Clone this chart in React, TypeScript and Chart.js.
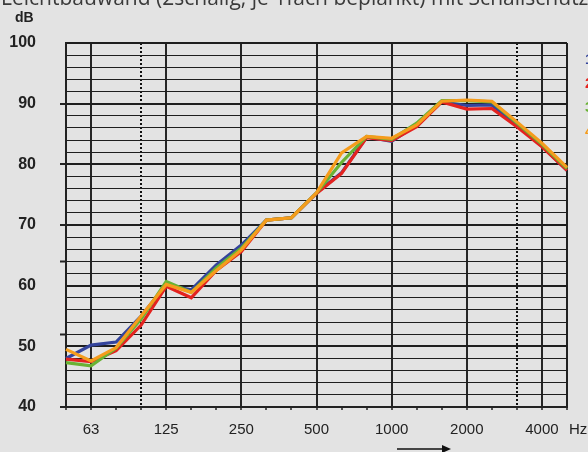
import React, { useEffect, useRef } from 'react';
import { Chart, registerables } from 'chart.js';

Chart.register(...registerables);

// Third-octave band centre frequencies (Hz)
const frequencies = ['50', '63', '80', '100', '125', '160', '200', '250', '315', '400', '500', '630', '800', '1000', '1250', '1600', '2000', '2500', '3150', '4000', '5000'];
const shownFrequencyLabels = ['63', '125', '250', '500', '1000', '2000', '4000'];
const dottedFrequencies = ['100', '3150'];

// Sound reduction index curves (dB)
const series1 = [48.0, 50.2, 50.7, 55.0, 60.1, 59.3, 63.4, 66.7, 70.8, 71.2, 75.3, 78.6, 84.5, 83.8, 86.5, 90.3, 89.7, 89.8, 86.5, 83.0, 79.0];
const series2 = [47.9, 47.5, 49.3, 53.5, 59.9, 58.0, 62.5, 65.6, 70.8, 71.2, 75.2, 78.5, 84.4, 83.9, 86.2, 90.3, 89.1, 89.2, 86.2, 82.9, 79.0];
const series3 = [47.3, 46.8, 49.7, 54.5, 60.7, 58.9, 62.9, 66.2, 70.8, 71.2, 75.3, 80.3, 84.6, 84.1, 86.8, 90.5, 90.5, 90.3, 86.8, 83.3, 79.3];
const series4 = [49.5, 47.6, 49.8, 55.0, 60.2, 58.9, 62.5, 65.9, 70.8, 71.2, 75.3, 81.9, 84.6, 84.3, 86.5, 90.4, 90.6, 90.4, 87.0, 83.5, 79.5];

const seriesNames = ['1', '2', '3', '4'];
const seriesColors = ['#34449c', '#e4231f', '#69b234', '#f59c1c'];

const yMin = 40;
const yMax = 100;
const yLabelValues = [40, 50, 60, 70, 80, 90, 100];
const yTickMarkValues = [40, 52, 64, 70, 80, 90];

const titleText = 'Leichtbauwand (2schalig, je 1fach beplankt) mit Schallschutz';
const yUnit = 'dB';
const xUnit = 'Hz';

const extrasPlugin = {
  id: 'extras',
  afterDraw(chart: any) {
    const ctx = chart.ctx;
    ctx.save();
    // title (clipped at top, as in reference)
    ctx.fillStyle = '#3a3a3a';
    ctx.font = '21px "Open Sans"';
    ctx.textAlign = 'left';
    ctx.textBaseline = 'alphabetic';
    ctx.fillText(titleText, 1, 5);
    // y unit
    ctx.fillStyle = '#222';
    ctx.font = 'bold 14px "Liberation Sans"';
    ctx.textBaseline = 'middle';
    ctx.fillText(yUnit, 15, 18);
    // x unit
    ctx.font = '15px "Liberation Sans"';
    ctx.fillText(xUnit, 569, 430);
    // legend numbers (partly cut at right edge)
    ctx.font = 'bold 15px "Liberation Sans"';
    seriesNames.forEach((n, i) => {
      ctx.fillStyle = seriesColors[i];
      ctx.fillText(n, 585, 60 + i * 24);
    });
    // arrow
    ctx.strokeStyle = '#111';
    ctx.fillStyle = '#111';
    ctx.lineWidth = 1.5;
    ctx.beginPath();
    ctx.moveTo(397, 449);
    ctx.lineTo(444, 449);
    ctx.stroke();
    ctx.beginPath();
    ctx.moveTo(451, 449);
    ctx.lineTo(442, 445);
    ctx.lineTo(442, 453);
    ctx.closePath();
    ctx.fill();
    ctx.restore();
  },
};

export default function App() {
  const ref = useRef<HTMLCanvasElement | null>(null);

  useEffect(() => {
    if (!ref.current) return;
    const allSeries = [series1, series2, series3, series4];
    const drawOrder = [3, 2, 1, 0];
    const chart = new Chart(ref.current, {
      type: 'line',
      data: {
        labels: frequencies,
        datasets: allSeries.map((s, i) => ({
          label: seriesNames[i],
          data: s,
          borderColor: seriesColors[i],
          backgroundColor: seriesColors[i],
          borderWidth: 3.2,
          pointRadius: 0,
          tension: 0,
          fill: false,
          order: drawOrder[i],
        })),
      },
      options: {
        responsive: false,
        animation: false,
        layout: { padding: { left: 0, top: 43, right: 21, bottom: 0 } },
        plugins: {
          legend: { display: false },
          tooltip: { enabled: false },
          title: { display: false },
        },
        scales: {
          x: {
            type: 'category',
            offset: false,
            afterFit: (scale: any) => { scale.height = 45; },
            grid: {
              offset: false,
              drawTicks: true,
              tickLength: 3,
              tickColor: '#222',
              tickWidth: 1.5,
              color: (c: any) => {
                const f = frequencies[c.index];
                if (c.index === 0 || c.index === frequencies.length - 1) return '#222';
                if (shownFrequencyLabels.includes(f)) return '#262626';
                if (dottedFrequencies.includes(f)) return '#111';
                return 'rgba(0,0,0,0)';
              },
              lineWidth: 2,
            },
            border: {
              display: true,
              color: '#222',
              width: 2,
              dash: (c: any) => {
                if (c && typeof c.index === 'number' && dottedFrequencies.includes(frequencies[c.index])) return [2, 2];
                return [];
              },
            },
            ticks: {
              autoSkip: false,
              maxRotation: 0,
              padding: 11,
              color: '#222',
              font: { family: '"Liberation Sans", Arial', size: 15 },
              callback: (_v: any, idx: number) => (shownFrequencyLabels.includes(frequencies[idx]) ? frequencies[idx] : ''),
            },
          },
          y: {
            type: 'linear',
            min: yMin,
            max: yMax,
            afterFit: (scale: any) => { scale.width = 66; },
            grid: {
              drawTicks: true,
              tickLength: 6,
              tickWidth: 2,
              tickColor: (c: any) => (c.tick && yTickMarkValues.includes(c.tick.value) ? '#222' : 'rgba(0,0,0,0)'),
              color: '#1e1e1e',
              lineWidth: (c: any) => (c.tick && c.tick.value % 10 === 0 ? 2 : 1),
            },
            border: { display: true, color: '#222', width: 2 },
            ticks: {
              stepSize: 2,
              autoSkip: false,
              padding: 24,
              color: '#222',
              font: { family: '"Liberation Sans", Arial', size: 16, weight: 'bold' },
              callback: (v: any) => (yLabelValues.includes(Number(v)) ? String(v) : ''),
            },
          },
        },
      },
      plugins: [extrasPlugin],
    } as any);
    return () => chart.destroy();
  }, []);

  return (
    <div style={{ position: 'fixed', left: 0, top: 0, width: 588, height: 452, background: '#e3e3e3', overflow: 'hidden' }}>
      <canvas ref={ref} width={588} height={452} style={{ display: 'block', width: 588, height: 452 }} />
    </div>
  );
}
